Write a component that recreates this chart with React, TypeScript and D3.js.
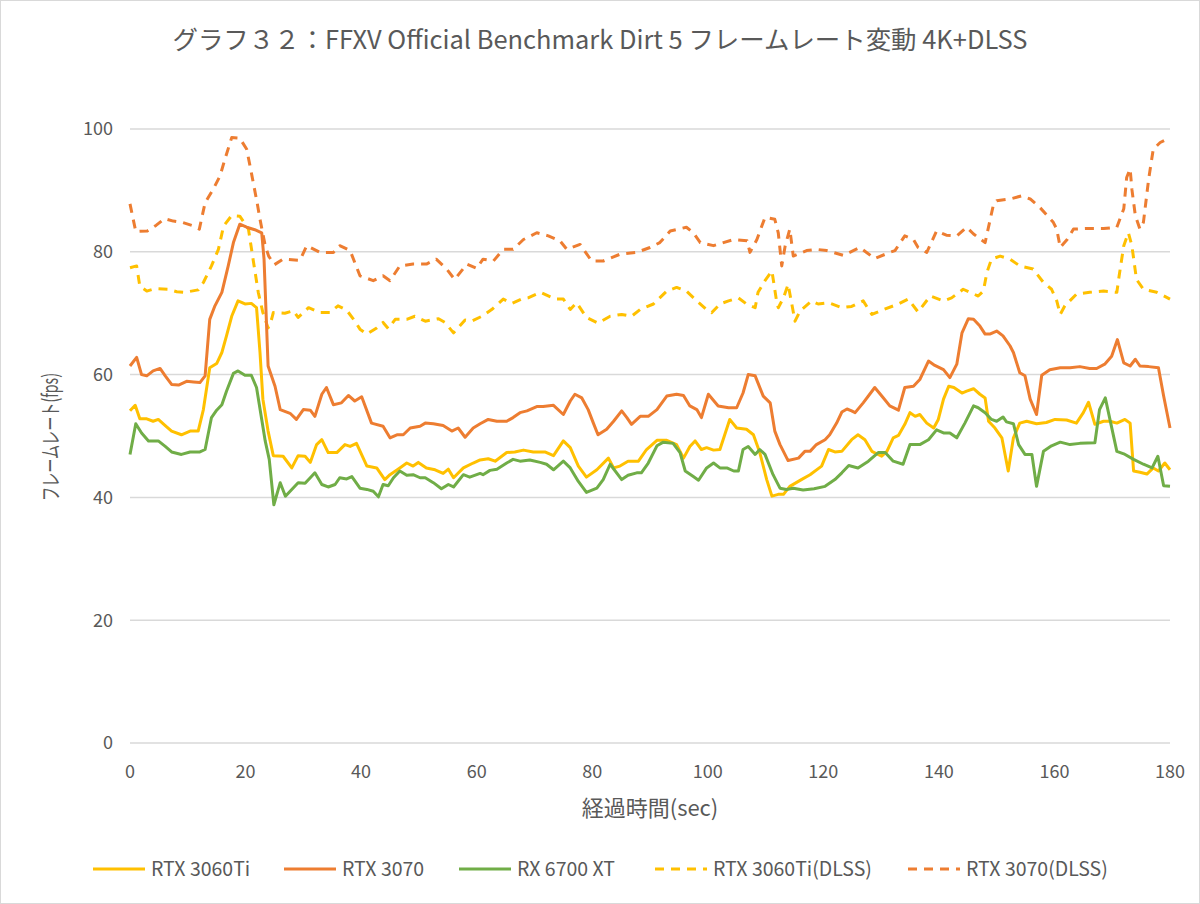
import React from "react";
import * as d3 from "d3";

const TITLE = "グラフ３２：FFXV Official Benchmark Dirt 5 フレームレート変動 4K+DLSS";
const X_TITLE = "経過時間(sec)";
const Y_TITLE = "フレームレート(fps)";
const X_TICKS = [0, 20, 40, 60, 80, 100, 120, 140, 160, 180];
const Y_TICKS = [0, 20, 40, 60, 80, 100];

const RTX3060Ti: [number, number][] = [[0,54.1],[0.9,55],[1.7,52.8],[2.9,52.8],[4,52.4],[4.9,52.7],[6.1,51.7],[7.2,50.8],[8.9,50.2],[10.4,50.8],[11.8,50.8],[12.7,54.3],[13.8,61.1],[15,61.8],[15.9,63.6],[16.7,66.3],[17.6,69.5],[18.7,72],[19.9,71.5],[21,71.6],[21.9,70.9],[22.5,63.6],[23,56],[23.9,50.8],[24.8,46.8],[26.5,46.7],[28,44.8],[29.1,46.8],[30.3,46.7],[31.2,45.7],[32.3,48.6],[33.2,49.4],[34.3,47.3],[35.8,47.3],[37.2,48.6],[38.1,48.3],[39.2,48.8],[41,45.1],[42.7,44.8],[44.1,42.9],[45,43.7],[46.7,44.8],[47.9,45.6],[49,45.1],[49.9,45.7],[51.3,44.8],[52.8,44.5],[54.2,43.9],[55.1,44.6],[56,43.2],[57.7,44.8],[59.4,45.6],[60.6,46.1],[62,46.3],[63.2,45.9],[65.2,47.3],[66.6,47.4],[68.1,47.7],[69.8,47.4],[71.8,47.4],[73.3,46.8],[75,49.2],[76.2,48.1],[77.6,45.1],[79,43.3],[80.8,44.5],[82.8,46.4],[83.7,44.8],[84.8,45.1],[86.2,45.9],[88,45.9],[89.4,47.8],[91.2,49.3],[92.9,49.3],[94.6,48.6],[95.8,46.4],[96.9,48.3],[97.8,49.2],[98.9,47.8],[99.8,48.1],[101,47.7],[102.1,47.8],[103.8,52.7],[105,51.3],[106.7,51.1],[107.9,50.2],[109,47.3],[110.2,42.9],[111.1,40.2],[112.2,40.5],[113.1,40.5],[114.2,41.8],[116.2,42.9],[117.7,43.7],[119.7,45.1],[120.9,47.8],[122,47.4],[123.2,47.5],[124.9,49.4],[126,50.2],[127.2,49.4],[128.4,47.5],[130.1,46.7],[131,47.5],[132.1,49.7],[133,50.1],[134.1,51.9],[135,53.8],[135.9,53.2],[136.7,53.5],[137.9,52.1],[139.1,51.3],[139.9,52.7],[140.8,56],[141.7,58.1],[142.6,57.9],[144,57],[144.8,57.3],[146,57.7],[147.1,56.8],[148,56.2],[148.6,52.4],[149.7,51.3],[150.9,49.7],[152,44.3],[152.9,49.7],[154,52.1],[155.2,52.4],[156.9,52],[158.6,52.2],[160.1,52.7],[162.1,52.6],[163.8,52.1],[165,53.8],[165.9,55.5],[167,51.9],[168.5,52.4],[169.6,52.4],[170.8,52.1],[172.2,52.7],[173.1,52.1],[173.7,44.3],[174.8,44.1],[176,43.8],[177.1,44.8],[178,44.3],[179.1,45.6],[180,44.5]];

const RTX3070: [number, number][] = [[0,61.4],[1.15,62.8],[2,60],[2.9,59.8],[4,60.6],[5.2,61],[6.1,59.8],[7.2,58.4],[8.4,58.3],[9.8,58.9],[11,58.8],[12.1,58.7],[13,59.8],[13.8,69],[14.7,71.2],[15.9,73.4],[17,77.7],[17.9,81.5],[19,84.5],[20.2,84],[21.6,83.6],[22.8,83.1],[23.2,78.8],[23.9,61.4],[25.1,58.1],[26,54.3],[27.7,53.7],[28.8,52.7],[30,54.3],[31.2,54.2],[32,53.2],[33.2,56.8],[34,57.9],[35.2,55.1],[36.6,55.4],[37.8,56.6],[38.9,55.7],[40.1,56.4],[41.8,52.1],[43.8,51.6],[45,49.7],[46.2,50.2],[47.3,50.2],[48.5,51.3],[50.2,51.6],[51.1,52.1],[52.5,52],[54.2,51.7],[55.7,50.8],[56.8,51.3],[58,49.8],[59.4,51.3],[60.6,52],[62,52.7],[63.5,52.4],[65.2,52.4],[66.3,53],[67.5,53.8],[68.7,54.1],[70.4,54.8],[71.5,54.8],[73.3,55],[75,53.5],[76.2,55.7],[77,56.8],[78.2,56.2],[79.3,54.3],[80.2,52.1],[81,50.2],[82.5,51.1],[83.7,52.4],[85.1,54.1],[86,53],[86.8,51.9],[88.3,53.2],[89.7,53.2],[91.2,54.3],[92.9,56.5],[94.6,56.8],[95.8,56.6],[96.9,54.9],[98.1,54.3],[98.9,53],[100.1,56.8],[101.8,54.9],[103.6,54.6],[105,54.6],[106.1,57],[107,60],[108.2,59.8],[109.6,56.5],[110.8,55.4],[111.6,50.8],[112.5,48.6],[113.9,46],[115.7,46.4],[116.8,47.5],[117.7,47.5],[118.8,48.6],[120.3,49.4],[121.1,50.2],[122.3,52.1],[123.2,53.9],[124.1,54.4],[124.9,54.1],[125.5,53.8],[126.9,55.4],[128.9,57.9],[130.4,56.2],[131.5,54.9],[133,54.2],[134.1,57.9],[135.6,58.1],[136.7,59.2],[138.2,62.2],[139.3,61.5],[140.8,60.8],[141.9,59.5],[143.1,61.7],[144,66.8],[145.1,69.1],[146,69],[147.1,67.9],[148,66.6],[148.8,66.6],[150,67.1],[151.1,66.3],[152.3,64.7],[152.9,63.6],[154,60.3],[154.9,59.8],[155.8,56],[156.9,53.5],[157.8,59.9],[159.2,60.8],[161,61.1],[162.7,61.1],[164.4,61.3],[166.1,61],[167.3,61],[168.7,61.7],[169.9,63],[170.9,65.7],[172,61.9],[173.1,61.4],[174,62.5],[174.8,61.4],[176.3,61.3],[178,61.1],[178.9,56.5],[180,51.3]];

const RX6700XT: [number, number][] = [[0,47],[1,52],[2,50.5],[3.2,49.2],[4.9,49.2],[6.1,48.3],[7.2,47.4],[8.9,47],[10.4,47.4],[12.1,47.4],[13,47.8],[14.1,53],[15,54.2],[15.9,55.1],[16.7,57.3],[17.9,60.2],[18.7,60.6],[19.9,59.9],[21,59.9],[21.9,57.9],[22.8,52.7],[23.4,49.2],[24.1,46.2],[24.9,38.8],[26,42.4],[26.9,40.2],[28,41.3],[29.1,42.4],[30.3,42.3],[31.2,43.2],[32,44],[33.2,42.1],[34.3,41.7],[35.5,42.1],[36.3,43.2],[37.5,43],[38.4,43.4],[39.8,41.5],[41,41.3],[42.1,41],[43,40.1],[43.8,42.1],[44.7,41.9],[45.6,43.2],[46.7,44.3],[47.9,43.6],[49,43.7],[50.2,43.2],[51.1,43.2],[52.5,42.4],[53.9,41.4],[55.1,42.1],[56,41.7],[57.7,43.7],[58.8,43.3],[60.6,43.9],[61.1,43.7],[62.3,44.4],[63.5,44.6],[65.2,45.6],[66.3,46.2],[67.5,45.9],[69.2,46.1],[71,45.7],[72.1,45.4],[73.3,44.5],[75,45.9],[76.2,44.8],[77.6,42.6],[79,40.8],[80.8,41.5],[81.9,42.9],[83.1,45.4],[85.1,42.9],[86.2,43.6],[87.7,44],[88.5,44],[89.7,45.6],[91.2,48.4],[92.3,49],[94,48.8],[95.2,47.3],[96.1,44.3],[97.5,43.4],[98.4,42.8],[99.8,44.8],[101,45.6],[102.1,44.8],[103.3,44.8],[104.5,44.3],[105.3,44.3],[106.1,47.8],[107,48.3],[108.2,47],[109,47.8],[109.9,47],[111.3,43.7],[112.5,41.5],[113.6,41.3],[114.8,41.5],[116.5,41.2],[118.4,41.4],[120.3,41.8],[122,42.9],[123.2,44],[124.4,45.2],[126,44.8],[127.8,45.9],[129.5,47.3],[130.7,47.3],[132.1,45.9],[133.8,45.4],[135,48.6],[136.7,48.6],[138.2,49.4],[139.6,51],[140.8,50.5],[141.9,50.5],[143.1,49.7],[144.5,52.1],[146,54.9],[146.8,54.6],[148,53.8],[149.1,52.7],[150,52.4],[151.1,53.1],[151.7,52.3],[152.9,52],[153.8,48.6],[154.9,47],[156.1,47],[156.9,41.8],[158.1,47.5],[159.5,48.4],[161,49],[162.7,48.6],[164.4,48.8],[167,48.9],[167.8,54.3],[168.8,56.2],[170.8,47.5],[172,47.1],[173.7,46.2],[175.4,45.4],[176.9,44.8],[177.9,46.7],[178.9,41.9],[180,41.8]];

const RTX3060Ti_DLSS: [number, number][] = [[0,77.4],[1.15,77.7],[1.7,74.4],[2.9,73.6],[4.3,74],[6.6,73.9],[8.1,73.5],[9.5,73.4],[11.8,73.8],[12.7,75],[14.1,77.7],[15.3,80.4],[16.2,84.2],[17.6,85.9],[19,85.8],[20.5,83.7],[21.3,78.8],[22.2,73.4],[23,70.1],[23.9,67.6],[24.5,69],[24.8,70.1],[26.8,70],[28.3,70.4],[29.1,69.3],[30.9,70.9],[32.9,70.1],[34.6,70.1],[36,71.2],[37.5,70.5],[38.7,69],[39.8,67.4],[41,66.6],[42.7,67.6],[43.8,68.5],[44.7,67.5],[45.9,69],[47.9,69],[49.3,69.5],[51.1,68.7],[53.4,69.1],[54.5,68.5],[56,66.8],[58,68.9],[59.1,68.7],[60.9,69.5],[62.6,70.6],[64.6,72.3],[66.1,71.6],[67.8,72.3],[68.9,72.5],[71,73.4],[73.6,72.3],[75,72.3],[76.2,70.6],[77.3,71.7],[79,69.3],[81,68.4],[83.1,69.5],[85.1,69.8],[86.8,69.5],[88.3,70.6],[90.6,71.5],[92.9,73.6],[94.6,74.2],[96.3,73.6],[98.1,72],[99.8,70.6],[100.7,70.1],[102.1,71.5],[103.6,72],[105.3,72.5],[106.7,71.5],[108.2,70.9],[108.7,73.4],[109.9,75.3],[111.1,76.9],[111.9,72],[112.2,70.9],[113.1,72.5],[113.9,74.7],[114.6,71.2],[115.1,68.7],[116,70.4],[118,72],[119.1,71.5],[120.9,71.7],[123.2,70.9],[124.9,71.1],[126.9,72],[128.4,69.8],[130.4,70.6],[133,71.5],[134.7,72.3],[136.4,70.2],[138.5,72.8],[140.8,72],[142.2,72.5],[144.2,73.9],[146.8,72.8],[147.7,73.6],[148.3,76.6],[149.1,78.8],[150.6,79.3],[152.3,78.8],[154,77.7],[156.3,77.2],[158.1,75],[159.5,73.9],[160.4,72],[161,69.8],[161.8,71.2],[163.8,73.1],[166.1,73.4],[168.5,73.6],[170.8,73.4],[171.2,76.1],[172,81],[172.8,83.1],[173.4,81],[174.2,75.5],[175.4,73.9],[177.7,73.4],[180,72.3]];

const RTX3070_DLSS: [number, number][] = [[0,87.8],[1,83.3],[3,83.4],[4.5,84.3],[6,85.4],[7.5,85],[9,84.8],[10.7,84.3],[12,83.7],[13,88],[14.4,90.2],[15.6,92.4],[16.4,95],[17.6,98.6],[19,98.5],[20.2,96.7],[21,92.9],[22,88],[22.5,85.3],[23.4,81],[24,79.3],[25,77.9],[26.5,78.8],[29.4,78.6],[30.6,81],[32.9,79.9],[35.2,79.9],[36.3,81],[38.1,80.2],[39.8,76.1],[42.1,75.3],[43.8,76.1],[45,75.3],[46.7,77.7],[49,78],[51.3,78],[53,78.8],[54.8,77.2],[56.2,75.5],[58.3,78],[60,77.3],[61.1,78.8],[62.9,78.5],[64.6,80.4],[66.3,80.4],[68.1,82],[70.4,83.1],[72.4,82.6],[74.4,81.8],[75.6,80.4],[77.9,81.2],[79.9,78.5],[81.9,78.5],[84.8,79.6],[87.7,79.9],[90,80.7],[91.7,81.5],[93.5,83.4],[96.3,84],[97.5,83.1],[98.7,81.5],[101,81],[102.7,81.5],[104.5,82],[106.8,81.8],[107.3,79.9],[108.5,82],[109.9,85.6],[111.6,85.3],[112.2,83.1],[112.8,77.7],[113.4,81],[114.2,83.7],[114.8,79.3],[117.1,80.2],[118.8,80.4],[120.6,80.2],[123.5,79.4],[126.3,80.7],[128.9,78.9],[131.5,79.9],[132.4,80.2],[134.1,82.6],[135.6,82],[136.4,80.7],[137.9,79.9],[139.6,83.4],[141.3,82.7],[143.1,82.6],[144.8,84],[146,82.9],[148,81.5],[149.4,87.5],[150,88.3],[152.3,88.6],[154.3,89.1],[155.8,88.6],[157.5,87.2],[159.8,84.8],[160.4,83.7],[161,80.7],[162.2,82],[163.3,83.7],[165.6,83.8],[168.5,83.8],[170.8,84],[172,87],[172.5,92.1],[173.1,93.5],[173.4,90.2],[174,85.9],[174.8,83.7],[175.4,84.8],[176.3,91.8],[177.1,96.7],[178.3,97.8],[180,98.6]];

const SERIES_NAMES = ["RTX 3060Ti", "RTX 3070", "RX 6700 XT", "RTX 3060Ti(DLSS)", "RTX 3070(DLSS)"];
const SERIES_DATA = [RTX3060Ti, RTX3070, RX6700XT, RTX3060Ti_DLSS, RTX3070_DLSS];
const SERIES_COLORS = ["#FFC000", "#ED7D31", "#70AD47", "#FFC000", "#ED7D31"];
const SERIES_DASHED = [false, false, false, true, true];
const LEGEND_TEXT_X = [151, 342, 517, 713, 966];

const W = 1200, H = 904;
const FONT = "'Noto Sans CJK JP', 'Noto Sans', sans-serif";
const TEXT_COLOR = "#595959";

export default function App() {
  const x = d3.scaleLinear().domain([0, 180]).range([130, 1170]);
  const y = d3.scaleLinear().domain([0, 100]).range([743, 129]);
  const line = d3.line<[number, number]>().x(d => x(d[0])).y(d => y(d[1]));
  const drawOrder = [3, 4, 0, 1, 2];

  return (
    <svg width={W} height={H} style={{ position: "absolute", left: 0, top: 0 }} fontFamily={FONT}>
      <rect x={0.5} y={0.5} width={W - 1} height={H - 1} fill="#fff" stroke="#d9d9d9" />
      <text x={600} y={49} textAnchor="middle" fontSize={25} fill={TEXT_COLOR}
        textLength={855} lengthAdjust="spacingAndGlyphs">{TITLE}</text>
      {Y_TICKS.map(t => (
        <g key={t}>
          <line x1={130} x2={1170} y1={y(t)} y2={y(t)} stroke="#d9d9d9" strokeWidth={1.5} />
          <text x={113} y={y(t)} dy="0.35em" textAnchor="end" fontSize={18} fill={TEXT_COLOR}>{t}</text>
        </g>
      ))}
      {X_TICKS.map(t => (
        <text key={t} x={x(t)} y={778} textAnchor="middle" fontSize={18} fill={TEXT_COLOR}>{t}</text>
      ))}
      <text x={650} y={816} textAnchor="middle" fontSize={22} fill={TEXT_COLOR}>{X_TITLE}</text>
      <text transform={`translate(58,437) rotate(-90)`} textAnchor="middle" fontSize={21} fill={TEXT_COLOR}
        textLength={128} lengthAdjust="spacingAndGlyphs">{Y_TITLE}</text>
      {drawOrder.map(i => (
        <path key={i} d={line(SERIES_DATA[i]) || ""} fill="none" stroke={SERIES_COLORS[i]} strokeWidth={3}
          strokeDasharray={SERIES_DASHED[i] ? "9,7" : undefined} strokeLinejoin="round" />
      ))}
      {SERIES_NAMES.map((name, i) => (
        <g key={name}>
          <line x1={LEGEND_TEXT_X[i] - 58} x2={LEGEND_TEXT_X[i] - 6} y1={869} y2={869}
            stroke={SERIES_COLORS[i]} strokeWidth={3} strokeDasharray={SERIES_DASHED[i] ? "9,7" : undefined} />
          <text x={LEGEND_TEXT_X[i]} y={869} dy="0.35em" fontSize={19.5} fill={TEXT_COLOR}>{name}</text>
        </g>
      ))}
    </svg>
  );
}
